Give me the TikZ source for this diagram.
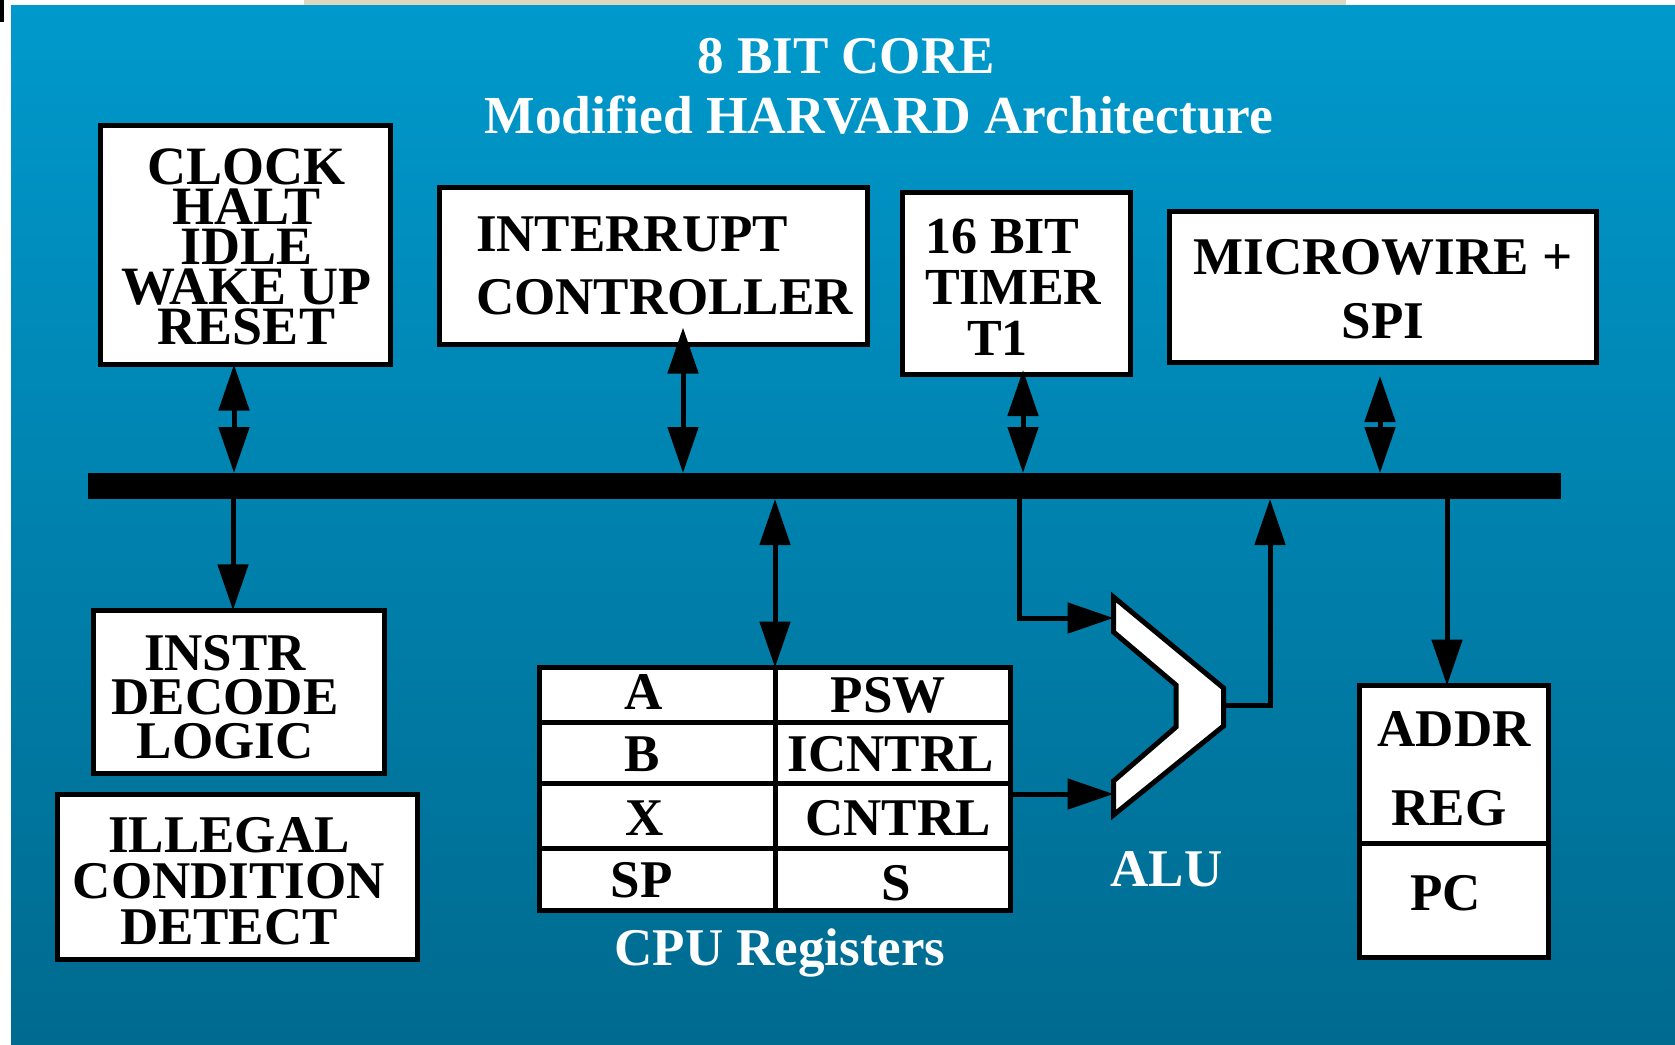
\documentclass[tikz,border=0pt]{standalone}
\usepackage{fontspec}
\setmainfont{Liberation Serif}
\usetikzlibrary{arrows.meta}
\definecolor{bgtop}{RGB}{0,153,204}
\definecolor{bgbot}{RGB}{0,106,143}
\definecolor{stripe}{RGB}{222,216,192}
\begin{document}
\begin{tikzpicture}[x=1pt,y=-1pt,
  box/.style={draw=black, fill=white, line width=5pt, inner sep=0pt, outer sep=0pt, rectangle},
  txt/.style={inner sep=0pt, outer sep=0pt, text=black, font=\fontsize{53}{53}\selectfont\bfseries},
  wtxt/.style={txt, text=white},
  lines/.style args={#1/#2}{align=center, font={\fontsize{#1}{#2}\selectfont\bfseries\lineskiplimit=-100pt}},
  link/.style={line width=5pt, draw=black},
  onehead/.style={-{Triangle[length=46pt,width=30pt]}},
  twohead/.style={{Triangle[length=46pt,width=30pt]}-{Triangle[length=46pt,width=30pt]}},
  rule/.style={line width=5pt, draw=black}
]
% canvas and background
\useasboundingbox (0,0) rectangle (1675,1044);
\fill[white] (0,0) rectangle (1675,1044);
\fill[black] (0,0) rectangle (4,22);
\fill[stripe] (304,0) rectangle (1346,5);
\shade[top color=bgtop, bottom color=bgbot] (11,5) rectangle (1675,1044);

% titles
\node[wtxt, anchor=base] (title) at (846,73) {8 BIT CORE};
\node[wtxt, anchor=base, font=\fontsize{53.5}{53.5}\selectfont\bfseries] (subtitle) at (879,133) {Modified HARVARD Architecture};

% upper blocks
\node[box, minimum width=290pt, minimum height=239pt] (clock) at (245.5,245) {};
\node[txt, lines=54/40] (clocktxt) at (246.5,247) {CLOCK\\HALT\\IDLE\\WAKE UP\\RESET};

\node[box, minimum width=428pt, minimum height=157pt] (intr) at (653.5,266) {};
\node[txt, lines=53/63.3, align=left, anchor=west] (intrtxt) at (476,265.8) {INTERRUPT\\CONTROLLER};

\node[box, minimum width=228pt, minimum height=182pt] (timer) at (1016.5,283.5) {};
\node[txt, lines=52/51, align=left, anchor=west] (timertxt) at (925,286.8) {16 BIT\\TIMER\\\hspace*{42pt}T1};

\node[box, minimum width=427pt, minimum height=151pt] (spi) at (1383,287) {};
\node[txt, lines=53/64] (spitxt) at (1383,289.5) {MICROWIRE +\\SPI};

% internal bus
\node[fill=black, inner sep=0pt, outer sep=0pt, minimum width=1473pt, minimum height=26pt] (bus) at (824.5,486) {};

% lower left blocks
\node[box, minimum width=291pt, minimum height=163.5pt] (instr) at (238.5,692) {};
\node[txt, lines=53/44.2] (instrtxt) at (225,697) {INSTR\\DECODE\\LOGIC};

\node[box, minimum width=360pt, minimum height=165pt] (illegal) at (237.5,876.5) {};
\node[txt, lines=53/46] (illegaltxt) at (229,881.5) {ILLEGAL\\CONDITION\\DETECT};

% CPU register file
\node[box, minimum width=471pt, minimum height=243pt] (regs) at (775,789) {};
\draw[rule] (regs.north) -- (regs.south);
\draw[rule] (regs.west |- 0,722) -- (regs.east |- 0,722);
\draw[rule] (regs.west |- 0,783) -- (regs.east |- 0,783);
\draw[rule] (regs.west |- 0,848) -- (regs.east |- 0,848);
\node[txt, anchor=base] (rA) at (643.3,709.3) {A};
\node[txt, anchor=base] (rB) at (641.7,771.7) {B};
\node[txt, anchor=base] (rX) at (645,835) {X};
\node[txt, anchor=base] (rSP) at (641.7,897.3) {SP};
\node[txt, anchor=base] (rPSW) at (888.3,712.7) {PSW};
\node[txt, anchor=base] (rICNTRL) at (890.8,771.7) {ICNTRL};
\node[txt, anchor=base] (rCNTRL) at (898,835) {CNTRL};
\node[txt, anchor=base] (rS) at (896,900.7) {S};
\node[wtxt, anchor=base] (regslbl) at (780,965) {CPU Registers};

% ALU
\draw[fill=white, line width=5pt, line join=miter]
  (1113.5,597) -- (1223.5,688) -- (1223.5,726) -- (1113.5,815) -- (1113.5,781)
  -- (1176,727) -- (1176,685) -- (1113.5,632) -- cycle;
\coordinate (aluin1) at (1113.5,618);
\coordinate (aluin2) at (1113.5,794);
\coordinate (aluout) at (1223.5,705);
\node[wtxt, anchor=base] (alulbl) at (1166.5,886) {ALU};

% address register / program counter
\node[box, minimum width=189pt, minimum height=272pt] (addr) at (1454,821.5) {};
\draw[rule] (addr.west |- 0,843) -- (addr.east |- 0,843);
\node[txt, anchor=base] (addrtxt) at (1454,746.7) {ADDR};
\node[txt, anchor=base] (regtxt) at (1449,825) {REG};
\node[txt, anchor=base] (pctxt) at (1445.5,910.7) {PC};

% bus connections
\draw[link, twohead] (234,0 |- clock.south) -- (234,0 |- bus.north);
\draw[link, twohead] ([yshift=17pt]683,0 |- intr.south) -- (683,0 |- bus.north);
\draw[link, twohead] ([yshift=4.5pt]1023,0 |- timer.south) -- (1023,0 |- bus.north);
\draw[link, twohead] ([yshift=-13.5pt]1380,0 |- spi.south) -- (1380,0 |- bus.north);
\draw[link, onehead] (233,0 |- bus.south) -- (233,0 |- instr.north);
\draw[link, twohead] (regs.north |- bus.south) -- (regs.north);
\draw[link, onehead] (1019,0 |- bus.south) |- (aluin1);
\draw[link, onehead] (regs.east |- aluin2) -- (aluin2);
\draw[link, onehead] (aluout) -| (1270,0 |- bus.south);
\draw[link, onehead] (1447,0 |- bus.south) -- (1447,0 |- addr.north);
\end{tikzpicture}
\end{document}
